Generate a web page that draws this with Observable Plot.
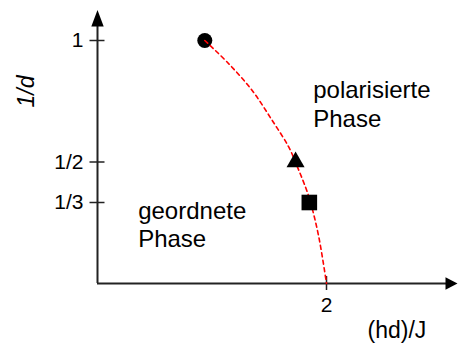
<!DOCTYPE html>
<html>
<head>
<meta charset="utf-8">
<script src="https://cdn.jsdelivr.net/npm/d3@7"></script>
<script src="https://cdn.jsdelivr.net/npm/@observablehq/plot@0.6"></script>
<style>
  html, body { margin: 0; padding: 0; background: #fff; }
  #chart svg { display: block; }
</style>
</head>
<body>
<div id="chart"></div>
<script>
// ---- data ----
const yTickValues = [1, 1/2, 1/3];
const yTickLabels = ["1", "1/2", "1/3"];
const xTickValues = [2];
const xTickLabels = ["2"];

// phase boundary
const boundaryX = [0.937, 1.147, 1.351, 1.526, 1.671, 1.729, 1.817, 1.860, 1.933, 2.0];
const boundaryY = [1.0, 0.904, 0.794, 0.671, 0.561, 0.499, 0.396, 0.335, 0.191, 0.0];

// special points
const pointNames = ["circle", "triangle", "square"];
const pointX = [0.937, 1.73, 1.85];
const pointY = [1, 1/2, 1/3];
const pointR = [7.5, 6.7, 8.8];

const boundary = boundaryX.map((x, i) => ({x, y: boundaryY[i]}));
const points = pointNames.map((s, i) => ({symbol: s, x: pointX[i], y: pointY[i], r: pointR[i]}));
const yTicks = yTickValues.map((v, i) => ({v, label: yTickLabels[i]}));
const xTicks = xTickValues.map((v, i) => ({v, label: xTickLabels[i]}));

// ---- layout (pixel scale factors) ----
const W = 458, H = 345;
const x0px = 97, xUnit = 114.5;   // px per unit of x
const y0px = 283, yUnit = 243;    // px per unit of y
const xDomain = [-x0px / xUnit, (W - x0px) / xUnit];
const yDomain = [(y0px - H) / yUnit, y0px / yUnit];
const xTip = (457 - x0px) / xUnit;
const yTip = (y0px - 9.5) / yUnit;

const font = "Liberation Sans, Arial, Helvetica, sans-serif";
const axisColor = "#222";

// arrowhead symbols (tip at origin)
const arrowUp = {draw(ctx) { ctx.moveTo(0, 0); ctx.lineTo(-6.2, 16.5); ctx.lineTo(6.2, 16.5); ctx.closePath(); }};
const arrowRight = {draw(ctx) { ctx.moveTo(0, 0); ctx.lineTo(-12, -6.2); ctx.lineTo(-12, 6.2); ctx.closePath(); }};

const dotMark = p => Plot.dot([p], {x: "x", y: "y", symbol: p.symbol, r: p.r, fill: "#000", stroke: null});

const chart = Plot.plot({
  width: W,
  height: H,
  margin: 0,
  x: {domain: xDomain, axis: null},
  y: {domain: yDomain, axis: null},
  style: {fontFamily: font, background: "#fff"},
  marks: [
    // axes
    Plot.ruleY([0], {x1: 0, x2: xTip - 10 / xUnit, stroke: axisColor, strokeWidth: 2}),
    Plot.ruleX([0], {y1: 0, y2: yTip - 14 / yUnit, stroke: axisColor, strokeWidth: 2}),
    Plot.dot([0], {x: 0, y: yTip, symbol: arrowUp, fill: "#000", stroke: null}),
    Plot.dot([0], {x: xTip, y: 0, symbol: arrowRight, fill: "#000", stroke: null}),
    // ticks
    Plot.ruleY(yTicks, {y: "v", x1: -7.5 / xUnit, x2: 7.5 / xUnit, stroke: axisColor, strokeWidth: 1.5}),
    Plot.ruleX(xTicks, {x: "v", y1: -7 / yUnit, y2: 7 / yUnit, stroke: axisColor, strokeWidth: 1.5}),
    Plot.text(yTicks, {x: 0, y: "v", text: "label", textAnchor: "end", dx: -14, fontSize: 21, fill: "#000"}),
    Plot.text(xTicks, {x: "v", y: 0, text: "label", dy: 22, fontSize: 21, fill: "#000"}),
    // axis labels
    Plot.text(["1/d"], {x: -0.62, y: 0.79, text: d => d, rotate: -90, fontSize: 23, fontStyle: "italic", fill: "#000"}),
    Plot.text(["(hd)/J"], {x: 2.358, y: -0.195, text: d => d, textAnchor: "start", fontSize: 23, fill: "#000"}),
    // phase labels
    Plot.text(["polarisierte\nPhase"], {x: 1.884, y: 0.743, text: d => d, textAnchor: "start", lineHeight: 1.2, fontSize: 24, fill: "#000"}),
    Plot.text(["geordnete\nPhase"], {x: 0.355, y: 0.245, text: d => d, textAnchor: "start", lineHeight: 1.18, fontSize: 24, fill: "#000"}),
    // circle below the boundary line
    dotMark(points[0]),
    // boundary
    Plot.line(boundary, {x: "x", y: "y", curve: "catmull-rom", stroke: "#ff0000", strokeWidth: 1.6, strokeDasharray: "4,3.5"}),
    // triangle and square above the line
    dotMark(points[1]),
    dotMark(points[2])
  ]
});
document.getElementById("chart").appendChild(chart);
</script>
</body>
</html>
